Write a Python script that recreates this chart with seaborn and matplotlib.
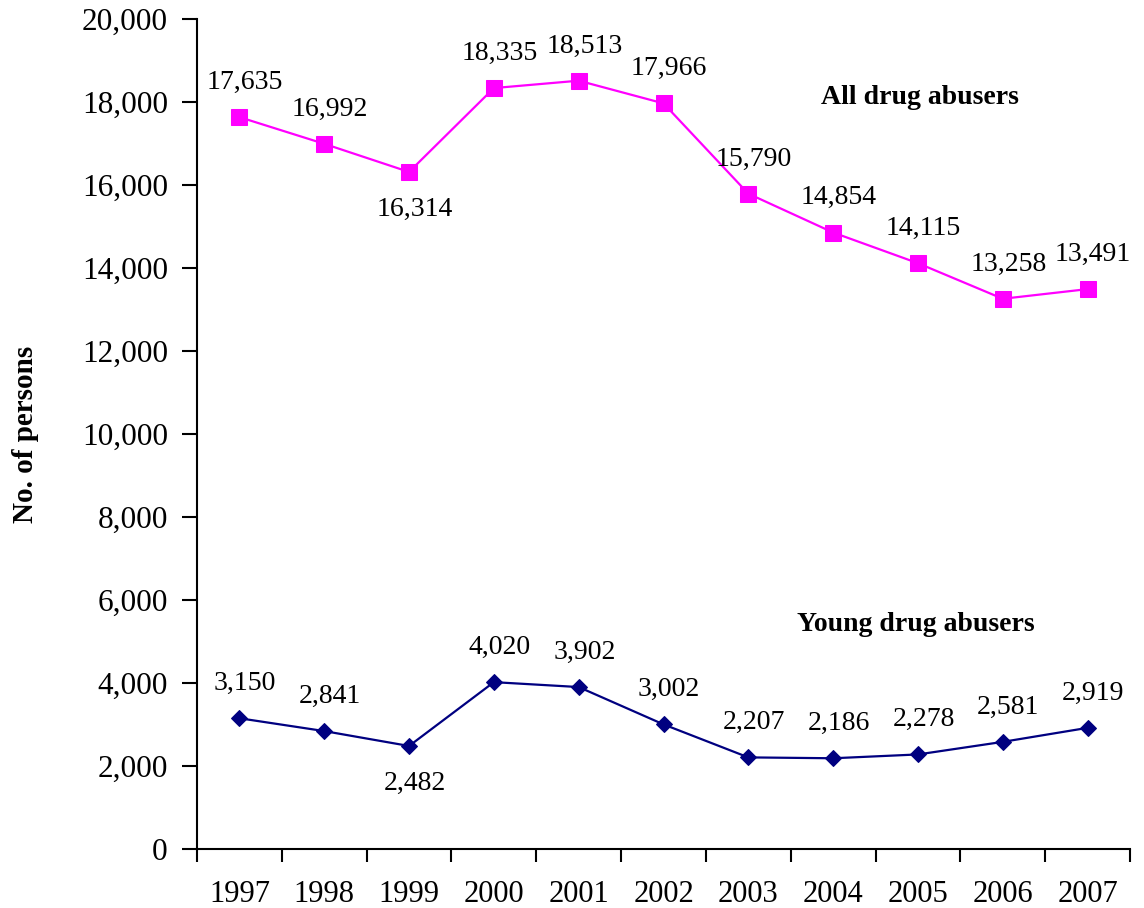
import numpy as np
import matplotlib
matplotlib.use('Agg')
import matplotlib.pyplot as plt
import seaborn as sns
from matplotlib.ticker import FuncFormatter, FixedLocator

# data
years = ['1997', '1998', '1999', '2000', '2001', '2002', '2003', '2004', '2005', '2006', '2007']
all_abusers = [17635, 16992, 16314, 18335, 18513, 17966, 15790, 14854, 14115, 13258, 13491]
young_abusers = [3150, 2841, 2482, 4020, 3902, 3002, 2207, 2186, 2278, 2581, 2919]

sns.set_style('white')
plt.rcParams['font.family'] = ['Liberation Serif', 'DejaVu Serif']
plt.rcParams['text.color'] = 'black'
plt.rcParams['axes.labelcolor'] = 'black'
plt.rcParams['xtick.color'] = 'black'
plt.rcParams['ytick.color'] = 'black'

fig = plt.figure(figsize=(11.44, 9.08), dpi=100)
ax = fig.add_axes([0.1722, 0.065, 0.8156, 0.9141])

pos = np.arange(len(years))
sns.lineplot(x=pos, y=all_abusers, ax=ax, color='#FF00FF', marker='s', markersize=11,
             markeredgecolor='#FF00FF', linewidth=1.6)
sns.lineplot(x=pos, y=young_abusers, ax=ax, color='#000080', marker='D', markersize=8,
             markeredgecolor='#000080', linewidth=1.6)

# value labels: above the point, except 1999 which sits below
for series in (all_abusers, young_abusers):
    for i, v in enumerate(series):
        dy = -27 if i == 2 else 25
        ax.annotate(f'{v:,}', (pos[i], v), xytext=(4, dy), textcoords='offset points',
                    ha='center', va='center', fontsize=20)

ax.text(8.02, 18100, 'All drug abusers', fontsize=20, fontweight='bold', ha='center', va='center')
ax.text(7.97, 5400, 'Young drug abusers', fontsize=20, fontweight='bold', ha='center', va='center')

ax.set_xlim(-0.5, len(years) - 0.5)
ax.set_ylim(0, 20000)
ax.set_yticks(np.arange(0, 20001, 2000))
ax.yaxis.set_major_formatter(FuncFormatter(lambda v, p: f'{int(v):,}'))
ax.xaxis.set_major_locator(FixedLocator(np.arange(-0.5, len(years), 1.0)))
ax.xaxis.set_major_formatter(FuncFormatter(lambda v, p: ''))
ax.xaxis.set_minor_locator(FixedLocator(pos))
ax.set_xticklabels(years, minor=True)
ax.tick_params(axis='x', which='minor', length=0, labelsize=22, pad=22)
ax.tick_params(axis='x', which='major', direction='out', length=9, width=1.5, bottom=True)
ax.tick_params(axis='y', direction='out', length=11, width=1.5, labelsize=22.5, left=True, pad=10)

ax.set_ylabel('No. of persons', fontsize=21, fontweight='bold', labelpad=31)
for s in ['top', 'right']:
    ax.spines[s].set_visible(False)
for s in ['left', 'bottom']:
    ax.spines[s].set_linewidth(1.5)
    ax.spines[s].set_color('black')
ax.grid(False)

fig.savefig('out.png', dpi=100)
